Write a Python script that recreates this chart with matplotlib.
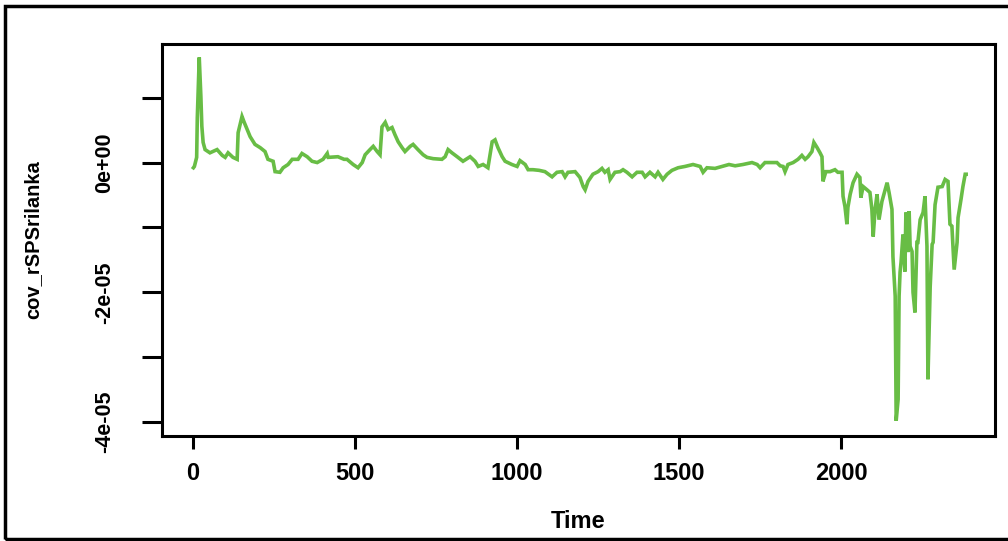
import numpy as np
import matplotlib
matplotlib.use("Agg")
import matplotlib.pyplot as plt
from matplotlib.patches import Rectangle

# time index and covariance (in units of 1e-05)
t_obs = [
    1, 4, 11, 13, 19, 24, 27, 31, 37, 52, 74, 90, 99, 108, 123, 136, 139, 151,
    157, 167, 176, 191, 207, 222, 231, 247, 253, 268, 278, 293, 306, 324, 336,
    352, 367, 383, 401, 414, 417, 447, 466,
    475, 494, 509, 522, 531, 546, 556, 568, 577, 583, 593, 602, 614, 623, 633,
    645, 654, 670, 679, 694, 710, 722, 741, 768, 778, 787, 799, 815, 833, 855,
    870, 880, 895, 910, 923, 932, 941, 954, 963, 984, 1000, 1009, 1025, 1034,
    1049, 1068,
    1086, 1108, 1123, 1139, 1148, 1157, 1179, 1194, 1204, 1210, 1219, 1234,
    1250, 1262, 1271, 1281, 1287, 1302, 1318, 1327, 1339, 1355, 1370, 1386,
    1395, 1410, 1426, 1435, 1450, 1463, 1478, 1497, 1518, 1543, 1565, 1574,
    1586, 1611, 1633, 1654,
    1673, 1697, 1725, 1741, 1750, 1765, 1787, 1802, 1812, 1821, 1827, 1836,
    1852, 1867, 1879, 1889, 1898, 1910, 1916, 1926, 1935, 1941, 1944, 1953,
    1966, 1981, 1990,
    2003, 2006, 2012, 2018, 2021, 2028, 2037, 2049, 2058, 2061, 2068, 2080,
    2089, 2095, 2099, 2105, 2111, 2117, 2126, 2136, 2142, 2148, 2157,
    2160, 2167, 2170, 2176, 2179, 2182, 2185, 2191, 2197, 2200, 2207, 2210,
    2213, 2219, 2222, 2228, 2234, 2237, 2244, 2253, 2259, 2265, 2268, 2275,
    2281, 2284, 2290, 2299, 2312, 2321, 2330, 2336, 2342, 2349, 2358, 2361,
    2370, 2376, 2383, 2386,
]
cov_e5 = [
    -0.08, -0.06, 0.08, 0.69, 1.62, 1.02, 0.56, 0.31, 0.20, 0.15, 0.20, 0.11,
    0.08, 0.15, 0.08, 0.05, 0.46, 0.71, 0.63, 0.51, 0.40, 0.28, 0.23, 0.17,
    0.05, 0.02, -0.14, -0.15, -0.08, -0.03, 0.05, 0.05, 0.14, 0.09, 0.02, 0.00,
    0.05, 0.14, 0.08, 0.09, 0.05,
    0.05, -0.03, -0.08, 0.00, 0.12, 0.20, 0.25, 0.17, 0.12, 0.55, 0.62, 0.51,
    0.54, 0.43, 0.32, 0.23, 0.17, 0.25, 0.28, 0.20, 0.12, 0.08, 0.06, 0.05,
    0.09, 0.20, 0.15, 0.09, 0.02, 0.09, 0.02, -0.06, -0.03, -0.08, 0.32, 0.35,
    0.23, 0.09, 0.02, -0.03, -0.06, 0.03, -0.03, -0.11, -0.11, -0.12,
    -0.14, -0.22, -0.15, -0.14, -0.22, -0.15, -0.14, -0.23, -0.37, -0.42,
    -0.29, -0.18, -0.14, -0.09, -0.15, -0.11, -0.26, -0.15, -0.14, -0.11,
    -0.15, -0.22, -0.15, -0.15, -0.22, -0.15, -0.22, -0.15, -0.26, -0.18,
    -0.12, -0.08, -0.06, -0.03, -0.06, -0.15, -0.08, -0.09, -0.06, -0.03,
    -0.05, -0.03, 0.00, -0.03, -0.08, 0.00, 0.00, 0.00, -0.05, -0.06, -0.14,
    -0.03, 0.00, 0.05, 0.11, 0.05, 0.09, 0.17, 0.31, 0.23, 0.15, 0.09, -0.29,
    -0.14, -0.14, -0.11, -0.15,
    -0.15, -0.52, -0.68, -0.95, -0.69, -0.49, -0.31, -0.18, -0.23, -0.54,
    -0.37, -0.42, -0.46, -0.72, -1.14, -0.72, -0.49, -0.88, -0.60, -0.42,
    -0.31, -0.46, -0.72,
    -1.45, -2.06, -3.98, -3.65, -2.06, -1.69, -1.54, -1.11, -1.68, -0.77,
    -1.38, -0.75, -1.29, -1.37, -2.00, -2.31, -1.23, -1.23, -0.88, -0.77,
    -0.52, -1.29, -3.34, -1.91, -1.26, -1.23, -0.65, -0.38, -0.37, -0.26,
    -0.29, -0.95, -0.98, -1.65, -1.23, -0.85, -0.57, -0.37, -0.18, -0.18,
]

x_ticks = [0, 500, 1000, 1500, 2000]
y_ticks = [1e-05, 0, -1e-05, -2e-05, -3e-05, -4e-05]
y_ticklabels = ["", "0e+00", "", "-2e-05", "", "-4e-05"]

plt.rcParams['font.family'] = ['Liberation Sans', 'DejaVu Sans']

fig = plt.figure(figsize=(10.08, 5.41), dpi=100)
ax = fig.add_axes([0.1607, 0.194, 0.8264, 0.725])

ax.plot(t_obs, np.array(cov_e5) * 1e-05, color='#68bd45', lw=2.6,
        solid_joinstyle='miter')

ax.set_xlim(-96, 2475)
ax.set_ylim(-4.215e-05, 1.83e-05)

ax.set_xticks(x_ticks)
ax.set_xticklabels([str(v) for v in x_ticks], fontsize=17, fontweight='bold')
ax.set_yticks(y_ticks)
ax.set_yticklabels(y_ticklabels, fontsize=15.5, fontweight='bold',
                   rotation=90, va='center')

ax.tick_params(axis='x', length=9.5, width=2.2, pad=9)
ax.tick_params(axis='y', length=14.5, width=2.2, pad=19)
for s in ax.spines.values():
    s.set_linewidth(2.2)

# axis titles placed in figure coordinates
fig.text(578 / 1008, 1 - 522 / 541, 'Time', fontsize=17, fontweight='bold',
         ha='center', va='center')
fig.text(33 / 1008, 1 - 240 / 541, 'cov_rSPSrilanka', fontsize=14.5,
         fontweight='bold', rotation=90, ha='center', va='center')

# outer frame of the original image
fig.add_artist(Rectangle((0.005, 0.003), 1.0, 0.985,
                         transform=fig.transFigure, fill=False,
                         lw=2.5, edgecolor='black'))

fig.savefig('out.png', dpi=100)
